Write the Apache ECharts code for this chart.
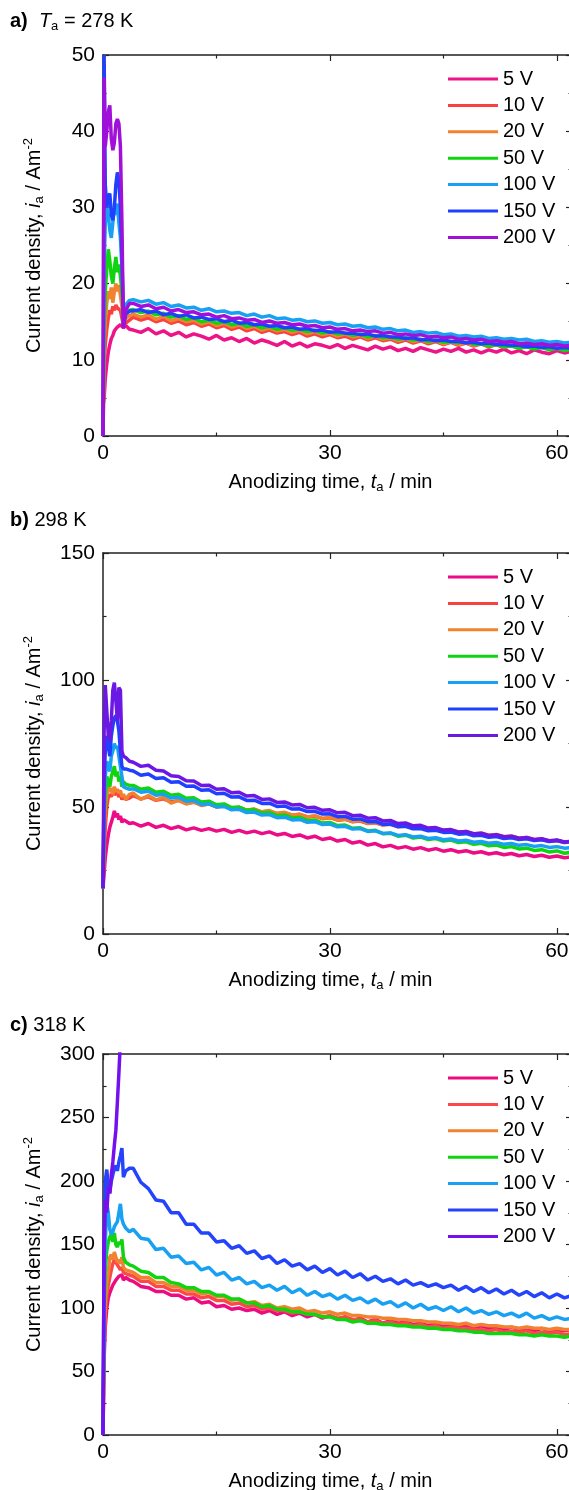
<!DOCTYPE html>
<html>
<head>
<meta charset="utf-8">
<script src="https://cdn.jsdelivr.net/npm/echarts@6/dist/echarts.min.js"></script>
<style>
  html, body { margin: 0; padding: 0; background: #fff; }
  #chart { width: 569px; height: 1490px; }
</style>
</head>
<body>
<div id="chart"></div>
<script>
// sample times (min), shared by all traces
const times = [0, 0.15, 0.3, 0.5, 0.7, 0.9, 1.1, 1.3, 1.5, 1.7, 1.9, 2.1, 2.3, 2.5, 2.7, 3, 3.5,
  4, 5, 6, 7, 8, 9, 10, 11, 12, 13, 14, 15, 16, 17, 18, 19, 20, 21, 22, 23, 24, 25, 26, 27, 28, 29, 30, 31, 32, 33,
  34, 35, 36, 37, 38, 39, 40, 41, 42, 43, 44, 45, 46, 47, 48, 49, 50, 51, 52, 53, 54, 55, 56, 57, 58, 59, 60, 61, 62];

const voltages = ['5 V', '10 V', '20 V', '50 V', '100 V', '150 V', '200 V'];

// a) 278 K
const a5 = [4, 5, 7.5, 9.5, 11, 12, 12.8, 13.2, 13.8, 14, 14.3, 14.5, 14.6, 14.8, 14.2, 14.5, 14.0,
  13.9, 13.6, 14.1, 13.4, 13.8, 13.2, 13.6, 13.0, 13.4, 13.1,
  12.7, 13.2, 12.6, 12.9, 12.4, 12.8, 12.2, 12.6, 12.3, 11.9,
  12.4, 11.8, 12.2, 11.7, 12.1, 11.9, 11.6, 12.0, 11.5, 11.9,
  11.6, 11.3, 11.8, 11.4, 11.7, 11.2, 11.5, 11.1, 11.6, 11.3,
  11.0, 11.4, 11.1, 11.5, 11.0, 11.3, 10.9, 11.3, 11.0, 11.4,
  10.9, 11.2, 10.8, 11.3, 11.0, 10.8, 11.2, 10.9, 11.1];
const a10 = [0, 9, 12, 14, 15.5, 16.5, 16, 17, 16.5, 17.2, 16.8, 17, 16.5, 15.5, 14.5, 14.8, 15.2,
  15.6, 15.2, 15.5, 15.0, 15.3, 14.8, 15.1, 14.6, 14.9, 14.4,
  14.7, 14.2, 14.5, 14.0, 14.3, 13.8, 14.1, 13.6, 13.9, 13.5,
  13.7, 13.3, 13.6, 13.1, 13.4, 13.0, 13.3, 12.9, 13.1, 12.7,
  13.0, 12.6, 12.9, 12.5, 12.7, 12.3, 12.6, 12.2, 12.5, 12.1,
  12.4, 12.0, 12.3, 11.9, 12.2, 11.8, 12.1, 11.7, 12.0, 11.6,
  11.9, 11.5, 11.8, 11.5, 11.7, 11.4, 11.6, 11.3, 11.5];
const a20 = [0, 12, 15, 17.5, 19, 18, 19.5, 17.5, 19, 20, 19, 19.8, 18.5, 17, 15, 15.5, 15.8,
  16.0, 15.6, 15.9, 15.3, 15.7, 15.1, 15.4, 15.0, 15.2, 14.7,
  15.0, 14.5, 14.8, 14.3, 14.6, 14.1, 14.4, 13.9, 14.2, 13.8,
  14.0, 13.6, 13.9, 13.4, 13.7, 13.3, 13.5, 13.1, 13.4, 13.0,
  13.2, 12.8, 13.1, 12.7, 12.9, 12.5, 12.8, 12.4, 12.6, 12.3,
  12.5, 12.1, 12.4, 12.0, 12.2, 11.9, 12.1, 11.8, 12.0, 11.7,
  11.9, 11.6, 11.8, 11.5, 11.7, 11.4, 11.6, 11.4, 11.5];
const a50 = [0, 14, 19, 22, 24.5, 23, 21, 20, 22, 23.5, 21.5, 22.5, 21, 19, 16, 16.2, 16.5,
  16.6, 16.2, 16.4, 15.9, 16.1, 15.6, 15.8, 15.3, 15.5, 15.0,
  15.2, 14.8, 15.0, 14.6, 14.8, 14.4, 14.6, 14.2, 14.4, 14.0,
  14.2, 13.9, 14.0, 13.7, 13.9, 13.5, 13.7, 13.4, 13.5, 13.2,
  13.4, 13.0, 13.2, 12.9, 13.0, 12.7, 12.9, 12.6, 12.7, 12.4,
  12.6, 12.3, 12.4, 12.2, 13.2, 12.0, 12.1, 11.8, 12.0, 11.7,
  11.8, 11.5, 11.7, 11.4, 11.6, 11.3, 11.5, 11.2, 11.4];
const a100 = [0, 22, 28, 30, 29, 27, 26, 28, 30, 29, 30.5, 28, 26, 22, 16, 17.2, 17.8,
  17.9, 17.6, 17.8, 17.3, 17.5, 17.0, 17.2, 16.8, 16.9, 16.5,
  16.7, 16.3, 16.4, 16.1, 16.2, 15.8, 16.0, 15.6, 15.8, 15.4,
  15.5, 15.2, 15.3, 15.0, 15.1, 14.8, 14.9, 14.6, 14.7, 14.4,
  14.5, 14.2, 14.3, 14.0, 14.1, 13.8, 13.9, 13.6, 13.7, 13.5,
  13.6, 13.3, 13.4, 13.1, 13.2, 13.0, 13.1, 12.8, 12.9, 12.7,
  12.8, 12.6, 12.7, 12.4, 12.5, 12.3, 12.4, 12.2, 12.3];
const a150 = [0, 50, 33, 30, 31.5, 31.8, 29, 28.3, 30, 33, 34.6, 33.5, 30, 24, 14.3, 16, 16.4,
  16.4, 16.6, 16.2, 16.4, 15.9, 16.1, 15.7, 15.9, 15.5, 15.6,
  15.3, 15.4, 15.0, 15.2, 14.8, 14.9, 14.6, 14.7, 14.4, 14.5,
  14.2, 14.3, 14.0, 14.1, 13.8, 13.9, 13.6, 13.7, 13.5, 13.5,
  13.3, 13.4, 13.1, 13.2, 13.0, 13.0, 12.8, 12.9, 12.6, 12.7,
  12.5, 12.6, 12.4, 12.4, 12.2, 12.3, 12.1, 12.2, 12.0, 12.0,
  11.9, 11.9, 11.7, 11.8, 11.6, 11.7, 11.5, 11.6, 11.5];
const a200 = [0, 47, 38, 40, 42.5, 43.4, 39, 37.5, 38.5, 41, 41.6, 41, 38, 28, 14.2, 16.5, 17.4,
  17.4, 17.0, 17.2, 16.7, 16.9, 16.4, 16.6, 16.2, 16.3, 15.9,
  16.0, 15.6, 15.8, 15.4, 15.5, 15.2, 15.3, 14.9, 15.1, 14.8,
  14.9, 14.6, 14.7, 14.4, 14.5, 14.2, 14.3, 14.0, 14.1, 13.8,
  13.9, 13.7, 13.8, 13.5, 13.6, 13.3, 13.4, 13.2, 13.3, 13.0,
  13.1, 12.9, 13.0, 12.7, 12.8, 12.6, 12.7, 12.4, 12.5, 12.3,
  12.4, 12.1, 12.2, 12.0, 12.1, 11.9, 12.0, 11.8, 11.9];

// b) 298 K
const b5 = [18, 24, 30, 35, 39, 42, 44, 46, 48.5, 46, 47.5, 45, 46.5, 44, 45, 44.5, 43.5,
  43.8, 42.5, 43.5, 42.0, 42.8, 41.5, 42.3, 41.0, 41.8, 40.8,
  41.5, 40.5, 41.2, 40.0, 40.8, 39.8, 40.5, 39.5, 40.2, 39.0,
  39.6, 38.4, 39.0, 37.8, 38.5, 37.2, 37.8, 36.6, 37.2, 35.8,
  36.4, 35.0, 35.6, 34.3, 34.9, 33.8, 34.4, 33.4, 34.0, 33.0,
  33.6, 32.6, 33.2, 32.3, 32.8, 31.9, 32.4, 31.5, 32.0, 31.2,
  31.7, 30.8, 31.3, 30.5, 31.0, 30.2, 30.7, 30.0, 30.4];
const b10 = [18, 32, 42, 50, 54, 55, 54, 56, 55, 54.5, 55.5, 54, 55, 53, 54, 53, 53.5,
  54.5, 53.2, 54.0, 52.6, 53.2, 52.0, 52.6, 51.4, 51.9, 50.8,
  51.2, 50.1, 50.5, 49.4, 49.8, 48.7, 49.1, 48.1, 48.4, 47.4,
  47.8, 46.8, 47.1, 46.1, 46.4, 45.4, 45.8, 44.8, 45.1, 44.2,
  44.5, 43.5, 43.8, 42.9, 43.2, 42.2, 42.5, 41.6, 41.9, 41.0,
  41.3, 40.4, 40.7, 39.8, 40.1, 39.2, 39.5, 38.7, 39.0, 38.1,
  38.4, 37.6, 37.9, 37.0, 37.3, 36.5, 36.8, 36.0, 36.3];
const b20 = [18, 40, 50, 55, 58, 56, 57.5, 55, 58, 56, 57, 55.5, 56.5, 54, 55, 53, 55,
  55.5, 53.0, 54.5, 52.8, 53.8, 51.5, 52.6, 51.2, 52.0, 50.6,
  51.3, 50.0, 50.6, 49.3, 49.9, 48.7, 49.2, 48.0, 48.6, 47.4,
  47.9, 46.8, 47.2, 46.1, 46.6, 45.5, 46.0, 44.9, 45.3, 44.3,
  44.7, 43.6, 44.0, 43.0, 43.4, 42.3, 42.7, 41.8, 42.1, 41.2,
  41.6, 40.6, 40.9, 40.0, 40.4, 39.4, 39.8, 38.9, 39.2, 38.3,
  38.6, 37.7, 38.0, 37.1, 37.4, 36.5, 36.8, 36.0, 36.2];
const b50 = [18, 45, 55, 62, 60, 58, 62, 64, 66, 62, 64, 60, 62, 58, 60, 59, 58.5,
  58.5, 57.0, 57.5, 55.8, 56.2, 54.6, 55.0, 53.4, 53.6, 52.0,
  52.3, 50.9, 51.2, 49.8, 50.0, 48.7, 48.9, 47.6, 47.9, 46.6,
  46.9, 45.7, 45.9, 44.7, 44.9, 43.7, 43.9, 42.7, 42.9, 41.6,
  41.8, 40.6, 40.8, 39.5, 39.7, 38.5, 38.9, 37.8, 38.2, 37.2,
  37.6, 36.6, 37.0, 36.0, 36.3, 35.3, 35.7, 34.7, 35.0, 34.1,
  34.4, 33.5, 33.8, 32.9, 33.2, 32.3, 32.7, 31.8, 32.2];
const b100 = [18, 50, 62, 68, 66, 64, 70, 72, 75, 73, 74, 70, 66, 62, 58, 57.5, 57,
  57.2, 55.8, 56.2, 54.6, 55.0, 53.5, 53.8, 52.3, 52.6, 51.0,
  51.3, 50.0, 50.2, 48.9, 49.1, 47.8, 48.0, 46.8, 47.0, 45.8,
  46.0, 44.9, 45.1, 44.0, 44.2, 43.1, 43.3, 42.2, 42.4, 41.3,
  41.5, 40.4, 40.6, 39.6, 39.8, 38.8, 39.1, 38.2, 38.5, 37.6,
  37.9, 37.1, 37.4, 36.6, 36.9, 36.1, 36.4, 35.7, 36.0, 35.3,
  35.6, 34.9, 35.2, 34.5, 34.8, 34.1, 34.4, 33.8, 34.1];
const b150 = [18, 60, 72, 78, 74, 70, 78, 82, 85, 86, 84, 80, 72, 66, 65, 65, 64.5,
  64.2, 62.5, 63.0, 61.2, 61.5, 59.7, 59.9, 58.2, 58.3, 56.6,
  56.8, 55.2, 55.4, 53.9, 54.0, 52.6, 52.7, 51.4, 51.5, 50.2,
  50.4, 49.2, 49.3, 48.2, 48.3, 47.2, 47.3, 46.2, 46.3, 45.2,
  45.3, 44.2, 44.3, 43.2, 43.3, 42.3, 42.4, 41.4, 41.5, 40.6,
  40.8, 40.0, 40.1, 39.3, 39.5, 38.7, 38.9, 38.1, 38.4, 37.6,
  37.9, 37.2, 37.5, 36.8, 37.1, 36.4, 36.8, 36.1, 36.5];
const b200 = [18, 80, 98, 88, 78, 76, 84, 96, 99, 92, 84, 97, 96, 72, 70, 69.5, 68,
  67.6, 66.0, 66.4, 64.5, 64.2, 62.3, 62.0, 60.3, 60.2, 58.5,
  58.6, 57.0, 57.2, 55.6, 55.8, 54.3, 54.5, 53.0, 53.2, 51.8,
  52.0, 50.8, 51.0, 49.7, 49.9, 48.7, 48.9, 47.7, 47.9, 46.6,
  46.8, 45.6, 45.8, 44.5, 44.7, 43.5, 43.7, 42.6, 42.8, 41.7,
  41.9, 40.9, 41.1, 40.2, 40.4, 39.5, 39.7, 38.8, 39.1, 38.3,
  38.5, 37.7, 38.0, 37.2, 37.5, 36.7, 37.0, 36.2, 36.5];

// c) 318 K
const c5 = [0, 60, 85, 100, 108, 112, 115, 118, 120, 122, 123, 125, 124, 126, 122, 124, 122,
  121, 117, 116, 113, 113, 110, 110, 107, 108, 104,
  105, 101, 102, 99, 100, 98, 99, 96, 98, 95,
  97, 94, 96, 93, 95, 92, 94, 91, 93, 90,
  92, 89, 91, 88, 90, 88, 89, 87, 88, 86,
  88, 85, 87, 85, 86, 84, 86, 84, 85, 83,
  85, 83, 84, 82, 84, 82, 83, 82, 83];
const c10 = [0, 70, 95, 110, 118, 124, 130, 135, 138, 136, 134, 132, 130, 132, 128, 127, 126,
  125, 121, 121, 117, 117, 114, 114, 111, 111, 108,
  109, 106, 106, 103, 104, 101, 102, 99, 100, 98,
  98, 96, 97, 95, 95, 93, 94, 92, 93, 91,
  91, 89, 90, 88, 89, 87, 88, 86, 87, 85,
  86, 84, 85, 84, 84, 83, 83, 82, 83, 81,
  82, 81, 82, 80, 81, 80, 81, 79, 80];
const c20 = [0, 80, 105, 120, 128, 140, 142, 138, 144, 140, 136, 138, 135, 140, 132, 130, 129,
  128, 124, 124, 120, 120, 117, 117, 114, 114, 111,
  112, 109, 109, 106, 107, 104, 105, 102, 103, 100,
  101, 99, 100, 97, 98, 96, 97, 95, 96, 94,
  94, 93, 93, 92, 92, 91, 91, 90, 90, 89,
  89, 88, 88, 87, 88, 86, 87, 86, 86, 85,
  85, 84, 85, 84, 84, 83, 84, 83, 83];
const c50 = [0, 95, 130, 145, 152, 156, 158, 152, 159, 150, 148, 152, 150, 154, 140, 136, 134,
  133, 129, 128, 124, 124, 120, 119, 116, 116, 113,
  113, 110, 110, 107, 107, 104, 104, 101, 102, 99,
  99, 97, 97, 95, 95, 93, 93, 91, 91, 89,
  90, 88, 88, 87, 87, 86, 86, 85, 85, 84,
  84, 83, 83, 82, 82, 81, 81, 80, 80, 80,
  80, 79, 79, 78, 79, 78, 78, 77, 78];
const c100 = [0, 110, 150, 182, 175, 162, 158, 160, 164, 166, 168, 175, 182, 170, 166, 163, 160,
  162, 155, 154, 146, 147, 140, 141, 135, 136, 130,
  132, 126, 128, 122, 124, 119, 121, 116, 118, 114,
  117, 112, 115, 110, 113, 109, 111, 107, 110, 106,
  108, 104, 107, 103, 105, 101, 104, 100, 103, 99,
  101, 98, 101, 97, 100, 96, 98, 95, 97, 94,
  96, 93, 96, 92, 94, 91, 93, 91, 92];
const c150 = [0, 150, 200, 209, 195, 191, 200, 205, 210, 212, 208, 215, 220, 226, 203, 208, 210,
  210, 199, 194, 185, 184, 175, 175, 166, 166, 159,
  159, 152, 153, 147, 149, 143, 145, 139, 141, 135,
  138, 133, 135, 130, 133, 128, 131, 126, 129, 124,
  127, 122, 125, 121, 123, 119, 122, 118, 120, 117,
  119, 116, 118, 114, 117, 113, 116, 112, 115, 111,
  114, 110, 113, 109, 112, 108, 111, 108, 110];
// leaves the frame at the top after ~2.3 min
const c200 = [0, 150, 185, 175, 195, 190, 205, 215, 228, 240, 262, 285, 310];

const colorsA = ['#ee1488', '#fb4040', '#f08230', '#10d410', '#18a0f2', '#2040ff', '#a010d8'];
const colorsB = ['#ec0c86', '#fb4040', '#f08230', '#10d410', '#18a0f2', '#2040ff', '#6c18e4'];
const colorsC = ['#ec0c80', '#fb4848', '#f08230', '#10d410', '#18a0f2', '#2444fc', '#7410f0'];

const FONT = 'Liberation Sans, Arial, Helvetica, sans-serif';
const INK = '#000';
const richText = {
  b: { fontWeight: 'bold', fontSize: 20, fontFamily: FONT, color: INK },
  i: { fontStyle: 'italic', fontSize: 20, fontFamily: FONT, color: INK },
  s: { fontSize: 13, lineHeight: 14, verticalAlign: 'bottom', fontFamily: FONT, color: INK },
  p: { fontSize: 13, lineHeight: 14, verticalAlign: 'top', fontFamily: FONT, color: INK }
};

const panels = [
  { key: 'a', top: 55, yMax: 50, yStep: 10, data: [a5, a10, a20, a50, a100, a150, a200], colors: colorsA,
    title: '{b|a)}  {i|T}{s|a} = 278 K', titleTop: 9 },
  { key: 'b', top: 553, yMax: 150, yStep: 50, data: [b5, b10, b20, b50, b100, b150, b200], colors: colorsB,
    title: '{b|b)} 298 K', titleTop: 508 },
  { key: 'c', top: 1054, yMax: 300, yStep: 50, data: [c5, c10, c20, c50, c100, c150, c200], colors: colorsC,
    title: '{b|c)} 318 K', titleTop: 1013 }
];

const axisLine = { show: true, onZero: false, lineStyle: { color: '#222', width: 1.5 } };
const tick = { show: true, inside: true, length: 6, lineStyle: { color: '#222', width: 1.2 } };
const minor = { show: true, splitNumber: 2, length: 3.5, lineStyle: { color: '#222', width: 1.2 } };

const option = {
  animation: false,
  backgroundColor: '#fff',
  textStyle: { fontFamily: FONT },
  title: [], grid: [], xAxis: [], yAxis: [], legend: [], series: []
};

panels.forEach((p, g) => {
  option.title.push({
    text: p.title, left: 10, top: p.titleTop, padding: 0,
    textStyle: { fontSize: 20, fontWeight: 'normal', color: INK, fontFamily: FONT, lineHeight: 24, rich: richText }
  });
  option.grid.push({ left: 103, top: p.top, width: 469, height: 381, containLabel: false, outerBoundsMode: 'none' });
  const xBase = {
    gridIndex: g, type: 'value', min: 0, max: 62, interval: 30,
    axisLine: axisLine, axisTick: tick, minorTick: minor, splitLine: { show: false }
  };
  option.xAxis.push(Object.assign({}, xBase, {
    position: 'bottom',
    axisLabel: { fontSize: 21, color: INK, margin: 7, fontFamily: FONT,
      formatter: v => (v % 30 === 0 ? String(v) : '') },
    name: 'Anodizing time, {i|t}{s|a} / min', nameLocation: 'middle', nameGap: 34,
    nameTextStyle: { fontSize: 20, color: INK, fontFamily: FONT, lineHeight: 24, padding: [0, 14, 0, 0], rich: richText }
  }));
  option.xAxis.push(Object.assign({}, xBase, { position: 'top', axisLabel: { show: false } }));
  const yBase = {
    gridIndex: g, type: 'value', min: 0, max: p.yMax, interval: p.yStep,
    axisLine: axisLine, axisTick: tick, minorTick: minor, splitLine: { show: false }
  };
  option.yAxis.push(Object.assign({}, yBase, {
    position: 'left',
    axisLabel: { fontSize: 21, color: INK, margin: 8, fontFamily: FONT },
    name: 'Current density, {i|i}{s|a} / Am{p|-2}', nameLocation: 'middle', nameGap: 57,
    nameTextStyle: { fontSize: 20, color: INK, fontFamily: FONT, lineHeight: 24, rich: richText }
  }));
  option.yAxis.push(Object.assign({}, yBase, { position: 'right', axisLabel: { show: false } }));

  const names = voltages.map(v => p.key + '|' + v);
  option.legend.push({
    orient: 'vertical', left: 448, top: p.top + 14, padding: 0, itemGap: 6.4,
    itemWidth: 50, itemHeight: 3, icon: 'rect', data: names, selectedMode: false,
    formatter: n => n.split('|')[1],
    textStyle: { fontSize: 20, color: INK, fontFamily: FONT }
  });
  p.data.forEach((vals, k) => {
    option.series.push({
      name: names[k], type: 'line', xAxisIndex: g * 2, yAxisIndex: g * 2,
      data: vals.map((v, i) => [times[i], v]),
      showSymbol: false, symbol: 'none', clip: true,
      color: p.colors[k],
      lineStyle: { color: p.colors[k], width: 3.5 }
    });
  });
});

const chart = echarts.init(document.getElementById('chart'), null, { renderer: 'canvas' });
chart.setOption(option);
</script>
</body>
</html>
